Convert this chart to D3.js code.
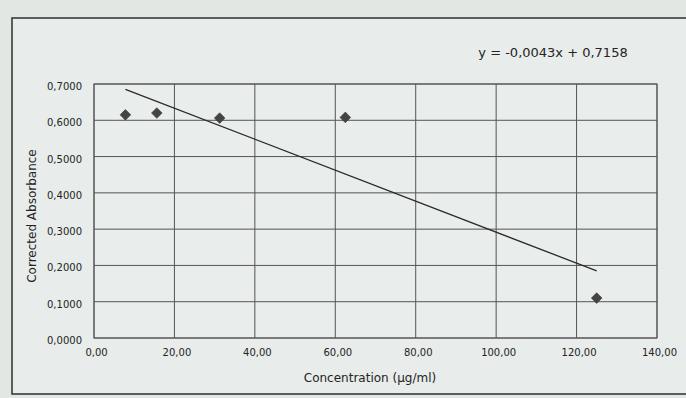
<!DOCTYPE html>
<html>
<head>
<meta charset="utf-8">
<script src="https://cdn.jsdelivr.net/npm/d3@7/dist/d3.min.js"></script>
<style>
  html, body { margin: 0; padding: 0; background: #e2e7e4; }
  svg { display: block; }
</style>
</head>
<body>
<script>
// ---- data ----
const concentrations = [7.8125, 15.625, 31.25, 62.5, 125];
const absorbance = [0.615, 0.620, 0.606, 0.608, 0.110];
const xTicks = [0, 20, 40, 60, 80, 100, 120, 140];
const yTicks = [0, 0.1, 0.2, 0.3, 0.4, 0.5, 0.6, 0.7];
const equationLabel = "y = -0,0043x + 0,7158";
const xTitle = "Concentration (µg/ml)";
const yTitle = "Corrected Absorbance";

const W = 686, H = 398;
const margin = { left: 94, right: 29, top: 84, bottom: 60 };
const fmtX = v => v.toFixed(2).replace(".", ",");
const fmtY = v => v.toFixed(4).replace(".", ",");
const FONT = "DejaVu Sans, Verdana, sans-serif";
const INK = "#242424";

const svg = d3.select("body").append("svg").attr("width", W).attr("height", H);

// paper background & outer chart frame
svg.append("rect").attr("width", W).attr("height", H).attr("fill", "#e2e7e4");
svg.append("rect").attr("x", 12).attr("y", 18).attr("width", W + 20).attr("height", 376)
  .attr("fill", "#e8ecea").attr("stroke", "#3a3a3a").attr("stroke-width", 1.6);

const x = d3.scaleLinear().domain([0, 140]).range([margin.left, W - margin.right]);
const y = d3.scaleLinear().domain([0, 0.7]).range([H - margin.bottom, margin.top]);

// plot area
svg.append("rect")
  .attr("x", x(0)).attr("y", y(0.7))
  .attr("width", x(140) - x(0)).attr("height", y(0) - y(0.7))
  .attr("fill", "#e9edeb").attr("stroke", "#555").attr("stroke-width", 1);

// gridlines
svg.append("g").selectAll("line").data(yTicks).join("line")
  .attr("x1", x(0)).attr("x2", x(140))
  .attr("y1", d => y(d)).attr("y2", d => y(d))
  .attr("stroke", "#555").attr("stroke-width", 1);
svg.append("g").selectAll("line").data(xTicks).join("line")
  .attr("x1", d => x(d)).attr("x2", d => x(d))
  .attr("y1", y(0)).attr("y2", y(0.7))
  .attr("stroke", "#555").attr("stroke-width", 1);

// axes (labels only)
const xAxis = svg.append("g").attr("transform", `translate(0,${y(0) + 8})`)
  .call(d3.axisBottom(x).tickValues(xTicks).tickFormat(fmtX).tickSize(0));
xAxis.select(".domain").remove();
xAxis.selectAll("text").attr("font-family", FONT)
  .attr("font-size", 10).attr("fill", INK).attr("dx", 2);

const yAxis = svg.append("g").attr("transform", `translate(${x(0) - 9},0)`)
  .call(d3.axisLeft(y).tickValues(yTicks).tickFormat(fmtY).tickSize(0));
yAxis.select(".domain").remove();
yAxis.selectAll("text").attr("font-family", FONT)
  .attr("font-size", 10).attr("fill", INK).attr("dy", "0.55em");

// linear trendline computed from the data (least squares)
const n = concentrations.length;
const mx = d3.mean(concentrations), my = d3.mean(absorbance);
let sxy = 0, sxx = 0;
for (let i = 0; i < n; i++) {
  sxy += (concentrations[i] - mx) * (absorbance[i] - my);
  sxx += (concentrations[i] - mx) ** 2;
}
const slope = sxy / sxx, intercept = my - slope * mx;
const xr = d3.extent(concentrations);
svg.append("line")
  .attr("x1", x(xr[0])).attr("y1", y(intercept + slope * xr[0]))
  .attr("x2", x(xr[1])).attr("y2", y(intercept + slope * xr[1]))
  .attr("stroke", "#2a2a2a").attr("stroke-width", 1.3);

// markers (diamonds)
svg.append("g").selectAll("path").data(concentrations).join("path")
  .attr("transform", (d, i) => `translate(${x(d)},${y(absorbance[i])})`)
  .attr("d", d3.symbol().type(d3.symbolDiamond2).size(72))
  .attr("fill", "#444").attr("stroke", "#303030").attr("stroke-width", 0.6);

// equation label
svg.append("text").attr("x", 553).attr("y", 57).attr("text-anchor", "middle")
  .attr("font-family", FONT).attr("font-size", 13)
  .attr("fill", INK).text(equationLabel);

// axis titles
svg.append("text").attr("x", 370).attr("y", 382).attr("text-anchor", "middle")
  .attr("font-family", FONT).attr("font-size", 12)
  .attr("fill", INK).text(xTitle);
svg.append("text").attr("transform", "translate(36,216) rotate(-90)").attr("text-anchor", "middle")
  .attr("font-family", FONT).attr("font-size", 12)
  .attr("fill", INK).text(yTitle);
</script>
</body>
</html>
